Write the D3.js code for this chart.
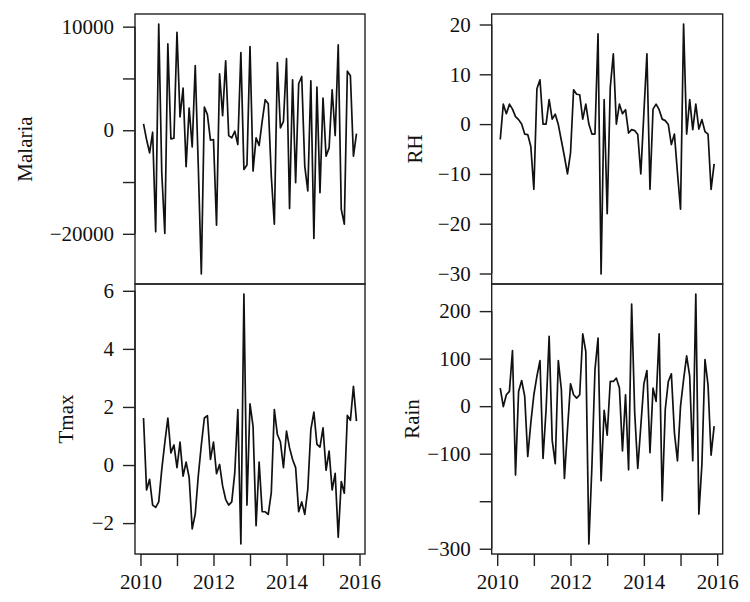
<!DOCTYPE html>
<html>
<head>
<meta charset="utf-8">
<script src="https://cdn.jsdelivr.net/npm/d3@7"></script>
<style>
  html, body { margin: 0; padding: 0; background: #fff; }
  svg { display: block; }
  text { font-family: "Liberation Serif", "DejaVu Serif", serif; fill: #111; }
</style>
</head>
<body>
<svg id="chart" width="750" height="602"></svg>
<script>
// Monthly differenced series, Feb 2010 .. Dec 2015 (71 points)
const startYear = 2010 + 1 / 12;
const malaria = [609, -897, -2179, -192, -9807, 10256, -4102, -9968, 8333, -833, -769, 9455, 1282, 4070, -3526, 2147, -1603, 6250, -3461, -13878, 2244, 1506, -962, -897, -9166, 5449, 1410, 6699, -513, -737, -96, -1378, 7500, -3782, -3365, 8077, -3942, -737, -1474, 865, 2949, 2564, -4423, -9070, 6538, 224, 865, 6923, -7564, 4872, -5064, 4487, 5192, -3461, -5865, 4775, -10448, 4166, -6025, 3109, -2500, -1699, 3910, -513, 8237, -7628, -9070, 5705, 5256, -2500, -320];
const rh = [-3.1, 4.0, 2.1, 4.0, 3.0, 1.5, 0.9, 0, -2.0, -2.1, -4.5, -13.1, 7.1, 8.9, 0, 0, 4.9, 1.0, 2.0, -0.1, -3.3, -6.5, -10, -5.8, 6.9, 6.0, 5.9, 1.0, 4.0, 0, -2.0, -2.0, 18.1, -30.1, 4.9, -18, 7.3, 14.1, 0, 4, 2.1, 2.9, -1.8, -1.1, -1.3, -2.1, -10, 2.2, 14.1, -13.1, 3, 4, 2.9, 1, 0.7, -0.1, -4.1, -2, -9.8, -17.1, 20.1, -2, 4.9, -1.1, 4, -1, 0.9, -1.5, -2, -13.1, -8];
const tmax = [1.62, -0.86, -0.49, -1.38, -1.46, -1.27, -0.15, 0.77, 1.62, 0.42, 0.69, -0.09, 0.79, -0.38, 0.10, -0.43, -2.2, -1.69, -0.38, 0.69, 1.62, 1.70, 0.19, 0.79, -0.30, 0.02, -0.72, -1.18, -1.38, -1.27, -0.26, 1.91, -2.72, 5.89, -1.38, 2.11, 1.34, -2.09, 0.10, -1.61, -1.61, -1.70, -0.95, 1.91, 1.05, 0.80, -0.09, 1.17, 0.59, 0.19, -0.09, -1.61, -1.27, -1.70, -0.83, 1.22, 1.82, 0.71, 0.62, 1.28, -0.18, 0.48, -0.86, -0.29, -2.49, -0.57, -0.97, 1.71, 1.54, 2.71, 1.51];
const rain = [38, -1, 24, 31, 117, -145, 31, 54, 21, -106, -35, 24, 63, 96, -110, -7, 147, -72, -121, 96, 35, -152, -49, 47, 24, 17, 24, 152, 115, -290, -126, 77, 143, -157, -9, -61, 52, 52, 59, 38, -94, 24, -134, 215, -14, -131, -42, 47, 75, -98, 38, 10, 152, -199, -7, 52, 68, -56, -115, 0, 56, 106, 63, -115, 236, -227, -122, 98, 45, -103, -42];

const xTickValues = [2010, 2011, 2012, 2013, 2014, 2015, 2016];
const xTickLabels = ["2010", "", "2012", "", "2014", "", "2016"];

const malariaTicks = [10000, 5000, 0, -5000, -10000];
const malariaTickLabels = ["10000", "", "0", "", "\u221220000"];
const rhTicks = [20, 10, 0, -10, -20, -30];
const rhTickLabels = ["20", "10", "0", "\u221210", "\u221220", "\u221230"];
const tmaxTicks = [6, 4, 2, 0, -2];
const tmaxTickLabels = ["6", "4", "2", "0", "\u22122"];
const rainTicks = [200, 100, 0, -100, -200, -300];
const rainTickLabels = ["200", "100", "0", "\u2212100", "", "\u2212300"];

const panels = [
  { name: "Malaria", values: malaria, ticks: malariaTicks, labels: malariaTickLabels, col: 0, row: 0, labX: 25 },
  { name: "Tmax", values: tmax, ticks: tmaxTicks, labels: tmaxTickLabels, col: 0, row: 1, labX: 66 },
  { name: "RH", values: rh, ticks: rhTicks, labels: rhTickLabels, col: 1, row: 0, labX: 415 },
  { name: "Rain", values: rain, ticks: rainTicks, labels: rainTickLabels, col: 1, row: 1, labX: 412 }
];

const colX = [[135, 365], [491.7, 722.7]];
const rowY = [[14, 284], [284, 554]];

const svg = d3.select("#chart");

const n = malaria.length;
const times = d3.range(n).map(i => startYear + i / 12);
const tExt = d3.extent(times);
const tPad = 0.04 * (tExt[1] - tExt[0]);

// clip for x tick labels (reference crops them at the bottom)
svg.append("defs").append("clipPath").attr("id", "bottomclip")
  .append("rect").attr("x", 0).attr("y", 0).attr("width", 750).attr("height", 587.5);

panels.forEach(p => {
  const [x0, x1] = colX[p.col];
  const [y0, y1] = rowY[p.row];
  const x = d3.scaleLinear().domain([tExt[0] - tPad, tExt[1] + tPad]).range([x0, x1]);
  const ext = d3.extent(p.values);
  const pad = 0.04 * (ext[1] - ext[0]);
  const y = d3.scaleLinear().domain([ext[0] - pad, ext[1] + pad]).range([y1, y0]);

  const g = svg.append("g");

  // line
  const line = d3.line().x((d, i) => x(times[i])).y(d => y(d));
  g.append("path").datum(p.values)
    .attr("d", line)
    .attr("fill", "none")
    .attr("stroke", "#111")
    .attr("stroke-width", 1.7)
    .attr("stroke-linejoin", "round");

  // box
  g.append("rect")
    .attr("x", x0).attr("y", y0)
    .attr("width", x1 - x0).attr("height", y1 - y0)
    .attr("fill", "none").attr("stroke", "#222").attr("stroke-width", 1.4);

  // y axis
  const yAxis = d3.axisLeft(y).tickValues(p.ticks)
    .tickSize(12).tickPadding(9)
    .tickFormat((d, i) => p.labels[i]);
  const ya = g.append("g").attr("transform", `translate(${x0},0)`).call(yAxis);
  ya.select(".domain").attr("stroke", "#222").attr("stroke-width", 1.4)
    .attr("d", `M-0,${y(p.ticks[p.ticks.length - 1])}V${y(p.ticks[0])}`);
  ya.selectAll(".tick line").attr("stroke", "#222").attr("stroke-width", 1.4);
  ya.selectAll(".tick text").attr("font-size", 21).attr("fill", "#111")
    .attr("font-family", "Liberation Serif, DejaVu Serif, serif");

  // y label
  g.append("text")
    .attr("transform", `translate(${p.labX},${(y0 + y1) / 2}) rotate(-90)`)
    .attr("text-anchor", "middle")
    .attr("dominant-baseline", "central")
    .attr("font-size", 21)
    .text(p.name);

  // x axis on bottom panels
  if (p.row === 1) {
    const xAxis = d3.axisBottom(x).tickValues(xTickValues)
      .tickSize(12).tickPadding(8)
      .tickFormat((d, i) => xTickLabels[i]);
    const xa = g.append("g").attr("transform", `translate(0,${y1})`)
      .attr("clip-path", "url(#bottomclip)")
      .call(xAxis);
    xa.select(".domain").attr("stroke", "#222").attr("stroke-width", 1.4)
      .attr("d", `M${x(xTickValues[0])},0H${x(xTickValues[xTickValues.length - 1])}`);
    xa.selectAll(".tick line").attr("stroke", "#222").attr("stroke-width", 1.4);
    xa.selectAll(".tick text").attr("font-size", 21).attr("fill", "#111")
      .attr("font-family", "Liberation Serif, DejaVu Serif, serif");
  }
});
</script>
</body>
</html>
